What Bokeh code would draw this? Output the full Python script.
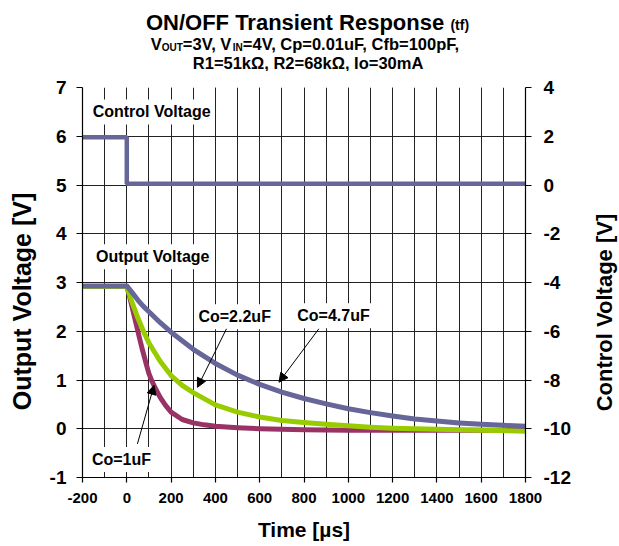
import math
from bokeh.plotting import figure
from bokeh.layouts import column, row
from bokeh.models import (Range1d, LinearAxis, SingleIntervalTicker, Label, Arrow, NormalHead,
                          PrintfTickFormatter)
from bokeh.embed import file_html
from bokeh.resources import INLINE

FONT = "Liberation Sans"

# ---------------- data ----------------
ctrl_t = [-200, 0, 0, 1800]
ctrl_v = [1.96, 1.96, 0.05, 0.05]

t_co1 = [-200, 0, 10, 20, 30, 40, 50, 60, 70, 80, 90, 100, 115, 130, 150, 175, 200,
         250, 300, 350, 400, 500, 600, 800, 1000, 1200, 1400, 1600, 1800]
v_co1 = [2.92, 2.92, 2.76, 2.57, 2.38, 2.19, 2.00, 1.81, 1.63, 1.46, 1.29, 1.13, 0.96, 0.82, 0.65, 0.48, 0.34,
         0.19, 0.12, 0.08, 0.05, 0.02, 0.00, -0.02, -0.03, -0.03, -0.03, -0.03, -0.03]

t_co22 = [-200, 0, 20, 50, 80, 100, 150, 200, 250, 300, 400, 500, 600, 700, 800,
          900, 1000, 1100, 1200, 1400, 1600, 1800]
v_co22 = [2.92, 2.92, 2.64, 2.27, 1.95, 1.76, 1.39, 1.09, 0.89, 0.74, 0.49, 0.34, 0.24, 0.17, 0.13,
          0.09, 0.06, 0.03, 0.01, -0.01, -0.03, -0.05]

t_co47 = [-200, 0, 25, 50, 75, 100, 150, 200, 300, 400, 500, 600, 700, 800, 900,
          1000, 1100, 1200, 1300, 1400, 1500, 1600, 1700, 1800]
v_co47 = [2.93, 2.93, 2.79, 2.64, 2.51, 2.40, 2.18, 1.98, 1.63, 1.34, 1.10, 0.91, 0.75, 0.62, 0.51,
          0.41, 0.33, 0.26, 0.20, 0.16, 0.12, 0.09, 0.07, 0.05]

x_start, x_end, x_step = -200, 1800, 200
y_start, y_end, y_step = -1, 7, 1
y2_start, y2_end, y2_step = -12, 4, 2

title_text = "ON/OFF Transient Response"
title_note = "(tf)"
sub1_parts = [("V", 0), ("OUT", 1), ("=3V, V", 0), ("IN", 1), ("=4V, Cp=0.01uF, Cfb=100pF,", 0)]
sub2_text = "R1=51kΩ, R2=68kΩ, Io=30mA"
x_title = "Time [µs]"
y_title = "Output Voltage [V]"
y2_title = "Control Voltage [V]"

C_BLUE = "#666699"
C_GREEN = "#99CC00"
C_MAG = "#993366"

# ---------------- layout (page pixels) ----------------
PAGE_W, PAGE_H = 619, 546
TITLE_H = 71
LLAB_W = 42
RLAB_W = 34
MAIN_W, MAIN_H = PAGE_W - RLAB_W - LLAB_W, PAGE_H - TITLE_H
FR_L, FR_R, FR_T, FR_B = 82, 525, 87, 477          # frame edges on the page
B_LEFT, B_RIGHT = FR_L - LLAB_W, (PAGE_W - RLAB_W) - FR_R
B_TOP, B_BOTTOM = FR_T - TITLE_H, PAGE_H - FR_B


def blank_fig(w, h, y_range=None):
    f = figure(width=w, height=h, output_backend="svg", toolbar_location=None,
               x_range=Range1d(0, w), y_range=y_range if y_range is not None else Range1d(0, h),
               x_axis_location=None, y_axis_location=None,
               min_border=0, min_border_left=0, min_border_right=0,
               min_border_top=0, min_border_bottom=0)
    f.grid.visible = False
    f.outline_line_color = None
    f.background_fill_color = "white"
    f.border_fill_color = "white"
    return f


# ---------------- main chart ----------------
p = figure(width=MAIN_W, height=MAIN_H, output_backend="svg", toolbar_location=None,
           x_range=Range1d(x_start, x_end), y_range=Range1d(y_start, y_end),
           min_border_left=B_LEFT, min_border_right=B_RIGHT,
           min_border_top=B_TOP, min_border_bottom=B_BOTTOM)
p.background_fill_color = "white"
p.border_fill_color = "white"
p.outline_line_color = None

p.extra_y_ranges = {"ctrl": Range1d(y2_start, y2_end)}

xt = SingleIntervalTicker(interval=x_step, num_minor_ticks=2)
yt = SingleIntervalTicker(interval=y_step, num_minor_ticks=0)
p.xaxis.ticker = xt
p.yaxis.ticker = yt
p.xgrid.ticker = xt
p.ygrid.ticker = yt

for g in (p.xgrid, p.ygrid):
    g.grid_line_color = "#222222"
    g.grid_line_width = 1
p.xgrid.minor_grid_line_color = "#222222"
p.xgrid.minor_grid_line_width = 1


def style_axis(ax, tick_size, label_size, standoff, label_standoff, tick_out):
    ax.formatter = PrintfTickFormatter(format="%d")
    ax.axis_line_color = "black"
    ax.axis_line_width = 1.2
    ax.major_tick_line_color = "black"
    ax.major_tick_line_width = 1.2
    ax.major_tick_out = tick_out
    ax.major_tick_in = 0
    ax.minor_tick_line_color = None
    ax.major_label_text_font = FONT
    ax.major_label_text_font_style = "bold"
    ax.major_label_text_font_size = f"{tick_size}px"
    ax.major_label_text_color = "black"
    ax.major_label_standoff = standoff
    ax.axis_label_text_font = FONT
    ax.axis_label_text_font_style = "bold"
    ax.axis_label_text_font_size = f"{label_size}px"
    ax.axis_label_text_color = "black"
    ax.axis_label_standoff = label_standoff


xa = p.xaxis[0]
xa.axis_label = x_title
style_axis(xa, 15, 21, 10, 12, 5)

ya = p.yaxis[0]
style_axis(ya, 19, 24, 10, 14, 6)

ra = LinearAxis(y_range_name="ctrl", ticker=SingleIntervalTicker(interval=y2_step))
style_axis(ra, 19, 21, 12, 10, 6)
p.add_layout(ra, "right")

# series
p.line(ctrl_t, ctrl_v, y_range_name="ctrl", line_color=C_BLUE, line_width=4.5)
p.line(t_co1, v_co1, line_color=C_MAG, line_width=5, line_join="round")
p.line(t_co22, v_co22, line_color=C_GREEN, line_width=5, line_join="round")
p.line(t_co47, v_co47, line_color=C_BLUE, line_width=5, line_join="round")


# annotations inside the plot
def ann(x, y, text, size=16):
    p.add_layout(Label(x=x, y=y, text=text, text_align="center", text_baseline="middle",
                       text_font=FONT, text_font_style="bold", text_font_size=f"{size}px",
                       text_color="black", background_fill_color="white", padding=4))


ann(112, 6.5, "Control Voltage")
ann(117, 3.53, "Output Voltage")
ann(487, 2.30, "Co=2.2uF")
ann(933, 2.32, "Co=4.7uF")
ann(-24, -0.63, "Co=1uF")


def arrow(x0, y0, x1, y1):
    p.add_layout(Arrow(x_start=x0, y_start=y0, x_end=x1, y_end=y1, line_color="black", line_width=1,
                       end=NormalHead(size=9, fill_color="black", line_color="black")))


arrow(450, 2.05, 319, 0.85)
arrow(867, 2.05, 687, 0.955)
arrow(48, -0.31, 123, 0.89)

# ---------------- title block ----------------
WID = {' ': 278, ',': 278, '.': 278, '=': 584, '/': 278, '(': 333, ')': 333,
       'V': 667, 'O': 778, 'U': 722, 'T': 611, 'I': 278, 'N': 722, 'C': 722, 'F': 611,
       'R': 722, 'A': 722, 'p': 611, 'u': 611, 'f': 333, 'b': 611, 'k': 556, 'o': 611,
       'm': 889, 'r': 389, 'a': 556, 'n': 611, 's': 556, 'i': 278, 'e': 556, 't': 333,
       'Ω': 768}


def tw(s, size):
    return sum(WID.get(c, 556) for c in s) * size / 1000.0


tf = blank_fig(PAGE_W, TITLE_H)


def text_run(fig, parts, center_x, baseline_y, height):
    # parts: (text, size, baseline shift, gap before)
    total = sum(tw(s, sz) + gap for s, sz, dy, gap in parts)
    x = center_x - total / 2.0
    for s, sz, dy, gap in parts:
        x += gap
        fig.add_layout(Label(x=x, y=height - (baseline_y + dy) + 0.21 * sz, text=s, text_align="left",
                             text_baseline="alphabetic", text_font=FONT, text_font_style="bold",
                             text_font_size=f"{sz}px", text_color="black"))
        x += tw(s, sz)


CX = 307
text_run(tf, [(title_text, 22, 0, 0), (title_note, 14, 0, 5)], CX, 27, TITLE_H)
text_run(tf, [(s, 10 if sub else 16.5, 2.5 if sub else 0, 0) for s, sub in sub1_parts], CX, 47, TITLE_H)
text_run(tf, [(sub2_text, 16.5, 0, 0)], CX, 66, TITLE_H)


def page_y_to_data(py):
    return y_end - (py - FR_T) * (y_end - y_start) / (FR_B - FR_T)


# ---------------- left / right axis titles (both read bottom-to-top) ----------------
lf = blank_fig(LLAB_W, MAIN_H, y_range=p.y_range)
lf.add_layout(Label(x=21, y=page_y_to_data(301), text=y_title, angle=math.pi / 2,
                    text_align="center", text_baseline="middle", text_font=FONT,
                    text_font_style="bold", text_font_size="25px", text_color="black"))

rf = blank_fig(RLAB_W, MAIN_H, y_range=p.y_range)
rf.add_layout(Label(x=RLAB_W - 15, y=page_y_to_data(312), text=y2_title, angle=math.pi / 2,
                    text_align="center", text_baseline="middle", text_font=FONT,
                    text_font_style="bold", text_font_size="22px", text_color="black"))

layout = column(tf, row(lf, p, rf, spacing=0), spacing=0)
open("out.html", "w").write(file_html(layout, INLINE))
